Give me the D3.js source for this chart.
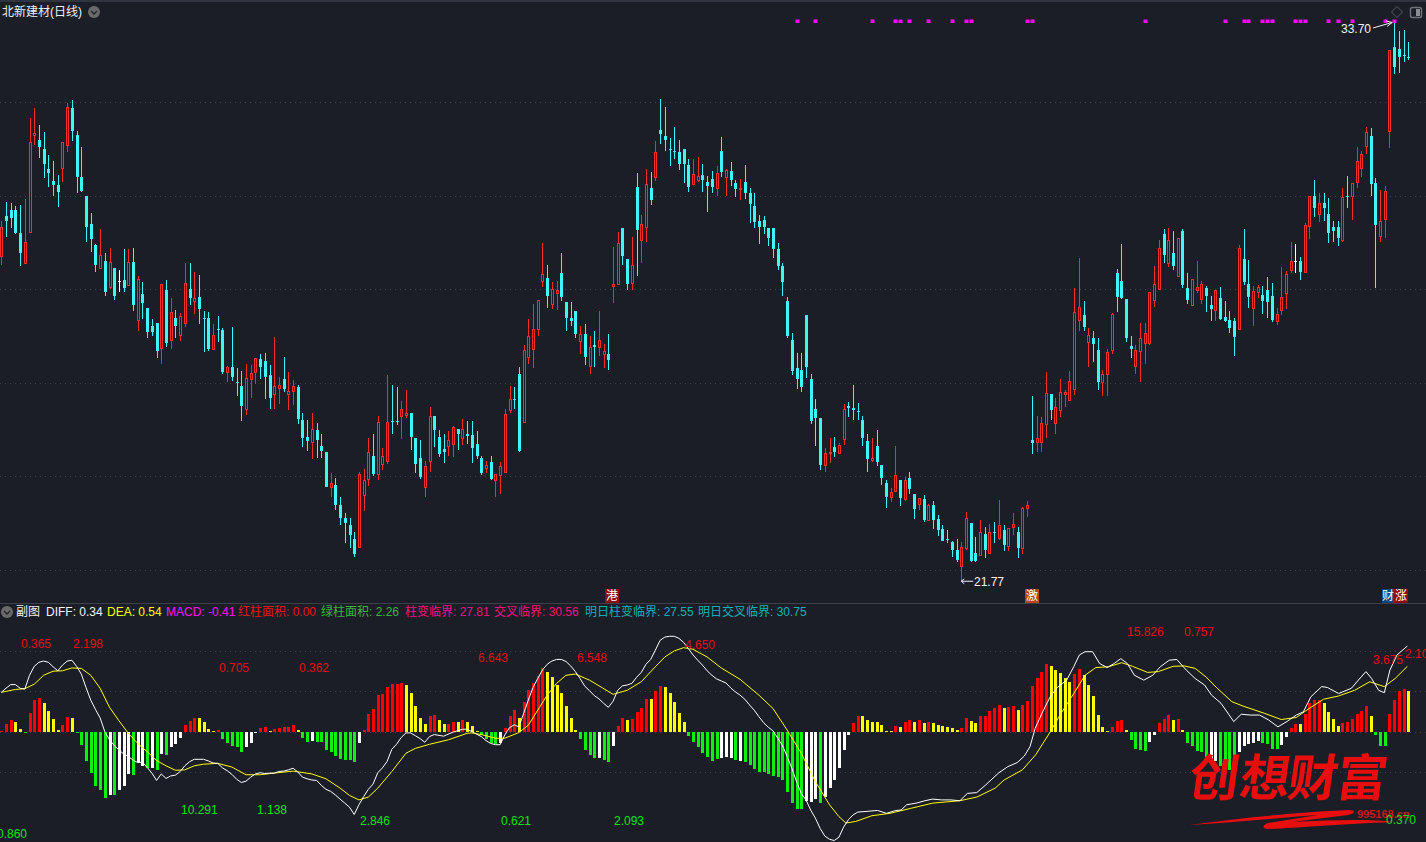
<!DOCTYPE html>
<html><head><meta charset="utf-8">
<script src="https://d3js.org/d3.v7.min.js"></script>
<style>html,body{margin:0;padding:0;background:#1b1e27;overflow:hidden}svg{display:block}text{font-family:"Liberation Sans","Noto Sans CJK SC",sans-serif}</style>
</head><body><svg id="c" width="1426" height="842"></svg>
<script>
const candleKinds=("RCCCCRRRCC"+"CCCRRCCCCC"+"CRCRCWCRCR"+"CCCCRCRCRR"+"CRCCCRCCRC"+"CCRRRCCCRR"+"CRRCCCRCCC"+"RCCCCCRRRC"+"RRRCCRRCCC"+"RRCCCRRCRC"+"CCCRCRRRRC"+"CRRRRRCRRC"+"CCCRCRCRRC"+"RRCCRCRRCR"+"CCCCCCCRRC"+"CCRCRCCRCC"+"CCCCCCCCCC"+"CCCCCRRCRR"+"CCCCCRCCCR"+"RCRCCRCRCC"+"CCCCRRCCRC"+"RCRCRRCRRC"+"RRRCRRRRRR"+"CRCCRRRCCC"+"CRRRRRRCRC"+"RCCRRRCCRC"+"CCCRCCRRCC"+"CRRRRWCRRC"+"RCCCCRCRRR"+"RCCRRRCCCC").split("");
const highs=[29.46,29.87,29.85,29.78,29.80,29.92,31.66,31.87,31.51,31.36,
30.87,30.74,30.44,31.14,31.98,32.04,31.38,31.04,29.99,29.63,
28.97,29.29,28.77,28.88,28.45,28.41,28.86,28.86,28.88,28.28,
28.15,27.60,27.36,27.28,28.11,28.20,27.81,27.55,27.49,28.56,
28.56,28.37,28.30,27.53,27.51,27.26,27.43,27.17,26.36,27.19,
26.32,26.25,26.40,26.38,26.52,26.61,26.64,26.38,26.98,26.12,
26.55,26.23,26.06,25.95,25.35,25.20,25.35,25.14,24.91,24.52,
24.07,23.97,23.56,23.22,23.11,22.81,24.09,24.16,24.82,24.91,
25.29,24.61,26.17,25.95,25.91,25.61,25.85,25.35,24.82,24.78,
24.33,25.48,25.29,24.99,24.91,24.97,25.08,25.01,25.23,25.18,
25.18,24.97,24.44,24.33,24.44,24.03,24.31,25.44,25.93,25.91,
26.34,26.81,27.36,27.68,27.77,28.99,28.52,28.15,28.17,28.77,
27.73,27.73,27.53,27.21,27.26,27.00,27.11,27.53,26.83,27.04,
28.90,29.22,29.31,28.65,29.12,30.48,29.59,30.57,30.50,31.17,
32.06,31.89,31.23,31.47,31.19,31.00,30.78,30.78,30.83,30.68,
30.42,30.53,30.63,31.25,30.57,30.72,30.33,30.35,30.65,30.16,
30.06,29.59,29.56,29.31,29.31,28.99,28.56,27.83,27.06,26.64,
26.64,27.45,26.19,25.65,25.25,24.61,24.82,24.84,24.71,25.55,
25.59,25.95,25.57,25.29,24.91,24.82,24.99,24.24,23.92,23.75,
24.65,23.92,23.99,24.09,23.62,23.54,23.60,23.41,23.47,23.17,
22.96,22.85,22.62,22.66,22.60,23.24,23.00,22.70,23.07,22.92,
22.98,23.02,23.50,22.96,22.90,23.22,22.92,23.35,23.47,25.72,
25.29,25.27,26.23,25.76,25.67,26.08,25.85,26.25,28.03,28.67,
27.75,27.17,27.11,26.96,26.27,26.72,27.49,28.43,28.97,27.79,
27.00,26.81,27.28,27.28,27.94,28.50,29.05,29.29,29.31,29.24,
29.09,29.29,28.35,28.20,28.60,28.17,28.07,27.86,27.98,28.05,
27.75,27.53,27.38,28.94,29.29,28.62,28.07,28.09,28.07,28.26,
28.13,27.60,28.47,28.39,29.01,28.97,28.69,29.41,29.99,30.33,
30.06,30.06,29.95,29.46,29.46,30.16,30.42,30.27,31.04,30.95,
31.47,31.44,30.38,30.12,30.21,33.09,33.70,33.52,33.54,33.28];
const bodyTops=[29.32,29.56,29.69,29.69,29.20,29.00,31.14,31.33,31.19,31.00,
30.57,30.31,30.23,31.14,31.89,31.87,31.30,30.40,29.99,29.39,
28.94,28.71,28.60,28.58,28.45,28.17,28.20,28.58,28.58,28.21,
27.90,27.60,27.21,27.28,28.09,27.98,27.51,27.38,27.41,28.13,
28.00,27.81,27.83,27.38,27.38,27.02,27.14,27.13,26.32,26.34,
26.01,25.93,26.10,26.19,26.52,26.51,26.47,26.17,25.93,25.95,
26.08,25.82,25.93,25.91,25.20,24.84,25.01,24.99,24.65,24.52,
23.84,23.82,23.39,23.11,22.96,22.66,24.05,23.92,24.52,24.44,
25.16,24.42,25.16,25.18,25.18,25.42,25.35,25.35,24.82,24.39,
24.22,25.29,25.29,24.84,24.58,24.76,25.05,25.01,25.01,24.91,
24.88,24.69,24.39,24.24,24.31,24.03,24.22,25.33,25.65,25.65,
26.19,26.70,27.00,27.13,27.75,28.32,28.24,28.00,27.98,28.35,
27.73,27.38,27.53,27.04,27.04,26.76,26.81,26.91,26.66,26.61,
28.11,28.97,29.31,28.65,28.50,30.18,29.39,30.23,30.16,30.93,
31.40,31.27,30.99,30.95,30.93,31.00,30.65,30.46,30.40,30.44,
30.29,30.35,30.48,30.95,30.53,30.53,30.27,30.16,30.29,30.06,
29.78,29.46,29.48,29.31,29.31,28.86,28.50,27.75,26.91,26.32,
26.27,27.45,26.08,25.44,25.25,24.50,24.52,24.63,24.67,25.42,
25.50,25.46,25.40,25.20,24.76,24.39,24.65,24.24,23.86,23.65,
24.01,23.92,23.92,23.97,23.62,23.52,23.52,23.37,23.39,23.09,
22.88,22.66,22.60,22.43,22.49,23.09,23.00,22.36,22.81,22.77,
22.81,22.81,22.96,22.85,22.88,22.98,22.81,23.32,23.37,24.78,
24.82,25.12,25.78,25.76,25.48,25.80,25.80,26.02,27.51,27.60,
27.45,27.02,26.96,26.70,26.17,26.64,27.45,28.35,28.17,27.79,
26.79,26.68,26.94,27.06,27.94,28.09,28.88,29.18,29.05,28.77,
29.09,29.24,28.03,28.20,28.03,28.09,28.03,27.66,27.98,27.81,
27.41,27.34,27.32,28.88,28.65,28.11,27.96,28.03,27.88,27.98,
27.85,27.45,27.83,28.32,28.60,28.60,28.60,29.37,29.99,29.99,
29.84,29.84,29.61,29.33,29.33,29.95,29.99,30.25,30.72,30.87,
31.34,31.27,30.27,29.44,30.08,33.09,33.18,33.13,33.00,32.96];
const bodyBots=[28.69,29.46,29.52,29.20,28.78,28.55,29.22,31.28,31.04,30.68,
30.48,30.23,30.08,30.58,31.06,31.38,30.40,30.10,29.33,29.07,
28.52,28.45,27.94,28.03,27.85,28.17,28.03,28.07,27.66,27.34,
27.70,27.09,27.09,26.68,26.74,26.85,26.91,27.21,27.02,27.26,
27.81,27.73,27.58,27.38,26.72,26.72,27.14,26.23,26.21,26.13,
26.01,25.50,25.44,26.08,26.23,26.34,26.13,25.67,25.74,25.87,
25.87,25.76,25.82,25.23,24.82,24.76,24.73,24.78,24.54,23.77,
23.77,23.39,23.11,23.00,22.75,22.34,22.49,23.60,23.94,24.05,
24.03,24.26,24.31,25.18,25.18,25.27,25.31,24.84,24.26,23.99,
23.77,24.31,25.00,24.48,24.52,24.63,24.69,24.91,24.82,24.86,
24.61,24.44,24.07,24.16,23.94,23.92,24.01,24.09,25.40,25.65,
24.54,25.16,26.55,26.72,27.13,28.17,27.85,27.68,27.90,27.83,
27.38,27.32,27.04,26.89,26.55,26.34,26.76,26.76,26.60,26.49,
28.05,28.11,28.71,28.11,28.13,29.27,29.05,29.31,29.91,30.38,
31.32,31.19,30.99,30.95,30.68,30.68,30.18,30.23,30.33,30.33,
30.20,30.18,30.16,30.50,30.38,30.33,30.14,30.12,30.06,29.82,
29.44,29.33,29.33,29.09,28.86,28.50,28.15,27.00,26.25,26.08,
25.91,26.34,25.18,25.25,24.24,24.24,24.52,24.52,24.50,24.78,
25.46,25.42,25.40,24.82,24.37,24.35,24.31,23.97,23.56,23.54,
23.67,23.54,23.51,23.73,23.30,23.39,23.07,23.05,23.07,22.85,
22.62,22.66,22.43,22.21,22.08,22.45,22.19,22.19,22.32,22.43,
22.36,22.81,22.68,22.53,22.51,22.90,22.47,22.45,23.32,24.71,
24.73,24.73,25.10,25.42,25.14,25.40,25.74,25.63,25.85,27.34,
27.19,26.87,26.83,26.02,26.00,26.17,26.68,27.83,27.81,26.96,
26.72,26.34,26.66,26.83,26.83,27.75,28.00,28.73,28.54,28.50,
28.28,28.09,27.77,27.66,27.98,27.79,27.85,27.58,27.55,27.36,
27.32,27.17,26.98,27.13,28.15,27.83,27.58,27.94,27.75,27.73,
27.34,27.32,27.55,27.90,28.41,28.60,28.37,28.35,29.35,29.73,
29.59,29.73,29.20,29.24,29.10,29.05,29.99,29.99,30.27,30.57,
31.04,30.25,29.37,29.12,29.48,31.38,32.75,32.96,33.00,32.96];
const lows=[28.52,29.12,29.31,29.18,28.50,28.55,29.22,31.09,30.80,30.38,
30.19,30.00,29.76,30.28,30.93,31.17,30.06,30.08,29.01,28.79,
28.37,28.45,27.85,28.00,27.77,27.94,27.94,28.07,27.53,27.11,
27.36,26.96,27.00,26.53,26.40,26.76,26.72,26.96,26.89,27.19,
27.66,27.47,27.26,26.66,26.68,26.72,26.87,26.19,26.02,26.04,
25.72,25.18,25.31,25.67,25.97,26.08,25.65,25.44,25.44,25.55,
25.80,25.42,25.53,25.12,24.63,24.54,24.37,24.39,24.39,23.77,
23.56,23.28,22.96,22.58,22.47,22.28,22.49,23.26,23.79,24.01,
23.92,24.14,24.26,24.91,25.10,24.80,25.25,24.56,24.07,23.94,
23.56,24.09,24.63,24.42,24.29,24.44,24.41,24.56,24.67,24.69,
24.29,24.37,24.03,24.07,23.92,23.56,23.62,24.09,25.35,25.44,
24.52,25.16,26.40,26.32,27.00,28.05,27.60,27.58,27.56,27.75,
27.11,27.21,26.96,26.61,26.38,26.19,26.34,26.57,26.32,26.27,
27.71,28.09,28.52,27.98,27.98,28.28,28.56,29.01,29.80,30.31,
31.10,30.95,30.63,30.78,30.55,30.27,30.08,30.23,30.29,30.08,
29.65,30.06,29.99,30.40,29.99,30.21,29.97,29.91,29.93,29.41,
29.31,28.97,29.18,28.93,28.67,28.41,27.85,26.96,26.17,25.87,
25.80,26.10,25.12,24.65,24.14,24.10,24.29,24.41,24.50,24.67,
25.27,25.20,25.20,24.65,24.10,24.31,24.22,23.82,23.32,23.45,
23.67,23.37,23.47,23.62,23.09,23.28,23.02,23.05,22.87,22.73,
22.62,22.58,22.28,22.17,21.77,22.43,22.17,22.17,22.32,22.26,
22.34,22.57,22.64,22.40,22.40,22.75,22.26,22.34,23.13,24.48,
24.52,24.52,24.82,25.20,24.91,25.27,25.48,25.63,25.74,27.11,
27.11,26.34,26.45,25.85,25.72,25.72,26.62,27.51,27.79,26.87,
26.53,26.19,26.02,26.40,26.81,27.62,28.00,28.56,28.47,28.41,
28.28,28.02,27.68,27.66,27.92,27.68,27.51,27.32,27.32,27.34,
27.30,27.06,26.57,27.13,28.09,27.60,27.21,27.81,27.47,27.38,
27.30,27.23,27.45,27.58,28.35,28.34,28.20,28.35,29.07,29.54,
29.44,29.46,28.99,29.01,28.92,29.01,29.73,29.48,30.16,30.40,
30.89,29.99,28.03,29.01,29.10,31.02,32.60,32.62,32.85,32.90];
const signalBars=[169,173,185,190,191,193,197,202,205,206,218,219,243,260,264,265,268,269,270,275,276,277,282,284,287,294,296];
const macdValues=[.02,.19,.29,.24,.07,-.03,.46,.78,.83,.70,
.51,.32,.05,.16,.36,.34,-.01,-.33,-.72,-1.02,
-1.34,-1.43,-1.63,-1.56,-1.56,-1.44,-1.34,-1.03,-1.07,-.75,
-.84,-.89,-.89,-.94,-.55,-.58,-.38,-.30,-.16,.16,
.26,.34,.34,.23,.07,.02,.04,-.18,-.29,-.34,
-.38,-.50,-.38,-.27,-.03,.08,.11,.02,.07,.10,
.11,.12,.16,.04,-.16,-.25,-.23,-.25,-.25,-.45,
-.51,-.61,-.68,-.70,-.70,-.75,-.28,.05,.43,.56,
.90,.93,1.09,1.17,1.17,1.20,1.15,.95,.63,.34,
.19,.39,.40,.29,.19,.19,.25,.25,.29,.23,
.13,.02,-.08,-.18,-.29,-.30,-.27,.08,.39,.54,
.34,.73,1.02,1.19,1.37,1.57,1.47,1.34,1.15,.95,
.63,.34,.04,-.18,-.45,-.57,-.64,-.65,-.70,-.75,
-.35,.14,.34,.29,.31,.48,.58,.80,.80,1.00,
1.12,1.10,.95,.73,.46,.24,-.10,-.25,-.38,-.52,
-.62,-.72,-.67,-.66,-.62,-.66,-.70,-.72,-.75,-.82,
-.92,-1.00,-1.00,-1.03,-1.08,-1.12,-1.20,-1.48,-1.75,-1.90,
-1.90,-1.70,-1.73,-1.66,-1.75,-1.61,-1.39,-1.19,-.89,-.45,
-.08,.21,.39,.39,.29,.24,.24,.16,.02,.02,
.14,.11,.24,.29,.24,.29,.21,.24,.21,.16,
.14,.11,.08,.04,.09,.34,.26,.21,.39,.39,
.51,.58,.66,.58,.61,.63,.53,.66,.75,1.12,
1.32,1.46,1.66,1.61,1.52,1.45,1.32,1.22,1.43,1.54,
1.39,1.15,.88,.41,.11,.02,.11,.26,.29,.04,
-.20,-.43,-.45,-.48,-.25,-.08,.21,.32,.41,.29,
.31,.04,-.28,-.35,-.47,-.51,-.62,-.73,-.73,-.85,
-.91,-.94,-.94,-.50,-.35,-.30,-.28,-.23,-.28,-.31,
-.43,-.43,-.33,-.13,.09,.19,.19,.43,.70,.78,
.78,.70,.48,.31,.14,.21,.24,.31,.43,.51,
.63,.39,-.08,-.35,-.35,.43,.78,1.00,1.05,1.00];
const macdKinds=("RRRYYGRRRY"+"YYYRRYGGGG"+"GGGWGWWWGW"+"WGWGWGWWWR"+"RRYYYYRGGG"+"GGWWWRRYRR"+"RRRYGGWGGG"+"GGGGGGWRRR"+"RRRRRRYYYY"+"YRRYYRRYRY"+"YYGGGGWRRR"+"YRRRRRYYYY"+"YYYGGGGWGG"+"WRRYRRRRYR"+"RYYYYYGGGG"+"GGGWWWGWGG"+"GGGGGGGGGG"+"GWWWGWWWWW"+"WRRYYYYYYY"+"RYRRYRYRYY"+"YYYYRRYYRR"+"RRRYRRYRRR"+"RRRYYYYYRR"+"YYYYYYRRRY"+"GGGGWWRRRY"+"RYGGGGGWWG"+"GGGWWWWWGG"+"GGWWRRYRRR"+"RYYYYRRRRR"+"RYGGGRRRRY").split("");
const diffBars=[0,1,2,3,4,5,6,7,8,9,10,11,12,13,14,15,16,17,18,19,20,21,22,23,24,25,26,27,28,29,30,31,32,33,34,35,36,37,38,39,40,41,42,43,44,45,46,47,48,49,50,51,52,53,54,55,56,57,58,59,60,61,62,63,64,65,66,67,68,69,70,71,72,73,74,75,76,77,78,79,80,81,82,83,84,85,86,87,88,89,90,91,92,94,96,98,99,100,101,102,103,104,105,106,107,108,109,110,111,112,113,114,115,116,117,118,119,120,121,122,123,124,125,126,127,128,129,130,131,132,133,134,135,136,137,138,139,140,141,142,143,144,145,146,147,148,149,150,151,152,153,154,155,156,157,158,159,160,161,162,163,164,165,166,167,168,169,170,171,172,173,174,175,176,177,178,179,180,181,182,184.2,186.2,188.1,190.1,191.2,192.4,194.4,196.3,197.9,199.8,201.8,203.7,205.3,207.3,209.2,212,213.9,215.9,217.4,218.6,219.7,221.3,222.9,224.4,226.4,227.9,229.1,230.3,231.9,233.4,235,236.5,237.9,239.3,240.8,242.8,244.7,246.3,248.2,249.8,251.8,253.7,255.7,257.2,259.2,261.9,263.5,265.4,267.4,269.3,271.3,273.2,275.2,276.7,278.3,280.6,281.8,284.2,286.9,288.4,290,291.2,292.7,293.9,295.1,296.6,298.8];
const diffValues=[.97,1.07,1.16,1.16,1.07,1.05,1.39,1.61,1.71,1.74,1.71,1.60,1.50,1.64,1.74,1.76,1.61,1.42,1.09,.78,.55,.34,0,-.20,-.34,-.45,-.55,-.61,-.70,-.76,-.75,-.88,-1.02,-1.20,-1.04,-1.15,-1.09,-1.07,-.98,-.84,-.74,-.68,-.68,-.68,-.72,-.77,-.78,-.89,-.96,-1.05,-1.17,-1.25,-1.22,-1.12,-1.04,-1.01,-1.03,-1.02,-1.02,-.98,-.97,-.94,-.90,-.99,-1.12,-1.16,-1.19,-1.20,-1.32,-1.42,-1.47,-1.56,-1.66,-1.76,-1.86,-2.04,-1.80,-1.60,-1.42,-1.29,-1.01,-.89,-.73,-.43,-.31,-.14,-.03,-.03,-.10,-.17,-.26,-.12,-.07,-.11,-.01,.06,.06,0,-.06,-.12,-.22,-.29,-.32,-.32,-.08,.10,.17,.12,.45,.78,1.09,1.31,1.52,1.66,1.74,1.78,1.78,1.73,1.62,1.48,1.31,1.12,1.01,.89,.81,.70,.60,.75,1.02,1.13,1.15,1.19,1.34,1.46,1.66,1.78,2.01,2.25,2.33,2.35,2.35,2.30,2.20,2.05,1.89,1.76,1.64,1.50,1.39,1.30,1.25,1.20,1.08,.98,.90,.80,.66,.53,.37,.22,.11,.02,-.16,-.34,-.61,-.90,-1.23,-1.52,-1.68,-1.93,-2.13,-2.38,-2.57,-2.65,-2.68,-2.60,-2.35,-2.17,-2.05,-1.98,-1.96,-1.94,-2.01,-1.94,-1.93,-1.80,-1.76,-1.70,-1.66,-1.68,-1.68,-1.70,-1.52,-1.50,-1.31,-1.01,-.86,-.76,-.60,-.37,.08,.49,.86,1.09,1.27,1.60,1.89,1.97,1.97,1.68,1.58,1.68,1.80,1.68,1.39,1.27,1.39,1.60,1.76,1.78,1.52,1.31,1.15,.90,.70,.25,.43,.41,.41,.29,.12,.25,.41,.49,.86,1.11,1.09,.94,1.07,1.27,1.48,1.31,1.02,.96,1.52,1.89,2.11];
const deaBars=[0,3,5,7,9,11,13,15,17,19,21,23,25,27,29,31,33,35,37,39,41,43,46,49,52,55,58,62,66,69,72,74,76,78,80,83,86,88,91,95,99,100,102,105,107,110,112,114,116,118,120,122,125,127.6,130,133,136,139,141,143,145,147,150,153,157,161,164,167,170,173,176,178,179.5,181.6,185,188.9,193.2,197.9,203.7,207.3,211.2,213.1,217,219.8,222.5,225.2,227.9,230.3,232.6,235.3,238.1,240.4,243.6,245.9,249,251.4,253.7,256,258.4,261.5,263.9,268.5,272,275.2,277.9,281,284.2,287.6,290.8,293.9,296.2,298.8];
const deaValues=[.97,1.04,1.06,1.17,1.39,1.49,1.50,1.57,1.56,1.39,1.07,.60,.27,-.04,-.29,-.49,-.71,-.84,-.95,-.94,-.84,-.80,-.78,-.87,-1.06,-1.06,-1.02,-.97,-1.04,-1.16,-1.39,-1.57,-1.68,-1.61,-1.39,-.98,-.53,-.41,-.31,-.20,-.04,-.03,-.07,-.16,-.16,-.02,.16,.53,.90,1.19,1.39,1.42,1.27,1.09,.92,1.02,1.23,1.60,1.84,1.99,2.07,2.03,1.84,1.57,1.29,.90,.57,.04,-.53,-1.23,-1.80,-2.09,-2.25,-2.21,-2.07,-2.01,-1.89,-1.76,-1.70,-1.61,-1.39,-1.19,-.94,-.57,-.08,.45,.94,1.39,1.58,1.60,1.70,1.61,1.46,1.48,1.61,1.62,1.56,1.35,1.07,.74,.63,.45,.30,.35,.57,.80,.88,1.02,1.23,1.11,1.31,1.61];
const legendTexts=[["DIFF: 0.34","#f4f4f4",46],["DEA: 0.54","#ffff00",107],["MACD: -0.41","#ff10ff",166],["红柱面积: 0.00","#e01818",238],["绿柱面积: 2.26","#3bb53b",321],["柱变临界: 27.81","#f0107c",405],["交叉临界: 30.56","#f0107c",494],["明日柱变临界: 27.55","#10b0b8",585],["明日交叉临界: 30.75","#10b0b8",698]];
const redAreaLabels=[["0.365",21,644],["2.198",73,644],["0.705",219,668],["0.362",299,668],["6.643",478,658],["6.548",577,658],["4.650",685,645],["15.826",1127,632],["0.757",1184,632],["3.675",1373,660],["2.10",1405,654]];
const greenAreaLabels=[["0.860",-3,834],["10.291",181,810],["1.138",257,810],["2.846",360,821],["0.621",501,821],["2.093",614,821],["0.370",1386,820]];
const priceGrid=[22,24,26,28,30,32];
const macdGrid=[-1,0,1,2];
const eventTags=[["港",605,14,"#8b0c0c"],["激",1025,14,"#b04a12"],["财",1382,12,"#14457a"],["涨",1394,14,"#8b0c0c"]];

const svg=d3.select("#c");
const W=1426;
svg.append("rect").attr("width",W).attr("height",842).attr("fill","#1b1e27");
svg.append("rect").attr("width",W).attr("height",2).attr("fill","#30343e");
svg.append("rect").attr("y",603).attr("width",W).attr("height",1).attr("fill","#3c404a");

const x=d3.scaleLinear().domain([0,299]).range([1.3,1408.3]);
const yP=d3.scaleLinear().domain([22,32]).range([570,102]);
const yM=d3.scaleLinear().domain([-1,2]).range([772.3,650.5]);
const px=i=>Math.round(x(i));

const grid=svg.append("g").attr("stroke","#3f434d").attr("stroke-dasharray","1,4");
grid.selectAll("line.p").data(priceGrid).join("line").attr("class","p").attr("x1",0).attr("x2",W).attr("y1",d=>Math.round(yP(d))+.5).attr("y2",d=>Math.round(yP(d))+.5);
grid.selectAll("line.m").data(macdGrid).join("line").attr("class","m").attr("x1",0).attr("x2",W).attr("y1",d=>Math.round(yM(d))+.5).attr("y2",d=>Math.round(yM(d))+.5);

const kc={R:"#ff2b2b",C:"#3ff7f7",W:"#ffffff"};
const idx=d3.range(300);
const ck=svg.append("g").attr("shape-rendering","crispEdges");
ck.selectAll("line").data(idx).join("line").attr("x1",i=>px(i)+.5).attr("x2",i=>px(i)+.5)
  .attr("y1",i=>yP(highs[i])).attr("y2",i=>yP(lows[i])).attr("stroke",i=>kc[candleKinds[i]]).attr("stroke-width",1);
ck.selectAll("rect").data(idx).join("rect")
  .attr("x",i=>candleKinds[i]==="R"?px(i)-.5:px(i)-1)
  .attr("y",i=>yP(bodyTops[i]))
  .attr("width",i=>candleKinds[i]==="R"?2:3)
  .attr("height",i=>Math.max(1,yP(bodyBots[i])-yP(bodyTops[i])))
  .attr("fill",i=>candleKinds[i]==="R"?"#1b1e27":kc[candleKinds[i]])
  .attr("stroke",i=>candleKinds[i]==="R"?kc.R:"none");

svg.append("g").selectAll("rect").data(signalBars).join("rect").attr("x",i=>px(i)-1.5).attr("y",19.5).attr("width",4).attr("height",3.5).attr("fill","#ff00ff");

const mc={R:"#ff0000",Y:"#ffff00",G:"#0ef00e",W:"#ffffff"};
svg.append("g").attr("shape-rendering","crispEdges").selectAll("rect").data(idx).join("rect")
  .attr("x",i=>px(i)-1).attr("width",3)
  .attr("y",i=>Math.min(yM(0),yM(macdValues[i])))
  .attr("height",i=>Math.max(1,Math.abs(yM(macdValues[i])-yM(0))))
  .attr("fill",i=>mc[macdKinds[i]]);

const ln=(xs,vs,col)=>svg.append("path").attr("fill","none").attr("stroke",col).attr("stroke-width",1)
  .attr("d",d3.line().x((d,i)=>x(xs[i])).y(d=>yM(d))(vs));
ln(deaBars,deaValues,"#ffff00");
ln(diffBars,diffValues,"#ffffff");

const mark=svg.append("g").attr("fill","#e80e0e");
[["创",1187],["想",1238],["财",1286],["富",1335]].forEach(d=>{
 mark.append("text").attr("transform",`translate(${d[1]},796) skewX(-8)`).attr("font-size",50).attr("font-weight",700).attr("style",'font-family:"Noto Sans CJK SC"').text(d[0]);});
mark.append("path").attr("d","M1189,825 C1240,818 1300,812 1348,810 C1356,810 1356,813 1348,815 L1292,822 C1330,820 1370,819 1394,822 C1340,824 1295,828 1268,829 C1262,829 1262,825 1268,823 L1318,815 C1275,818 1230,823 1189,825Z");
svg.append("text").attr("x",1357).attr("y",814).attr("fill","#c81818").attr("font-size",11).attr("font-weight",700).attr("dominant-baseline","central").text("995168.cn");

const tx=(s,xx,yy,col,size,anchor)=>svg.append("text").attr("x",xx).attr("y",yy).attr("fill",col).attr("font-size",size||12).attr("text-anchor",anchor||"start").attr("dominant-baseline","central").text(s);

tx("北新建材(日线)",2,12,"#f0f0f0",12);
const icon=(cx,cy)=>{svg.append("circle").attr("cx",cx).attr("cy",cy).attr("r",6).attr("fill","#6a6a6a");
 svg.append("path").attr("d",`M${cx-3},${cy-1}L${cx},${cy+2}L${cx+3},${cy-1}`).attr("fill","none").attr("stroke","#22242a").attr("stroke-width",1.4);};
icon(94,12);icon(7,612);
tx("副图",16,612,"#f0f0f0",12);
legendTexts.forEach(d=>tx(d[0],d[2],612,d[1],12));
redAreaLabels.forEach(d=>tx(d[0],d[1],d[2],"#e01010",12));
greenAreaLabels.forEach(d=>tx(d[0],d[1],d[2],"#10e010",12));

svg.append("path").attr("d","M1397,6.5L1402.5,12L1397,17.5L1391.5,12Z").attr("fill","none").attr("stroke","#5a5d64");
svg.append("rect").attr("x",1410.5).attr("y",7.5).attr("width",11).attr("height",10).attr("rx",2).attr("fill","none").attr("stroke","#70737a").attr("stroke-width",1.5);
svg.append("rect").attr("x",1416).attr("y",9).attr("width",4).attr("height",7).attr("fill","#8a8d92");

tx("33.70",1341,29,"#f4f4f4",12);
const ax=x(296)-2, ay=yP(33.70);
svg.append("path").attr("d",`M1373,28L${ax},${ay}M${ax-6},${ay-1.5}L${ax},${ay}L${ax-5},${ay+4}`).attr("fill","none").attr("stroke","#f4f4f4");
const bx=x(204),by=yP(21.77)+.5;
svg.append("path").attr("d",`M${bx},${by}H${bx+12}M${bx+3},${by-2.5}L${bx},${by}L${bx+3},${by+2.5}`).attr("fill","none").attr("stroke","#f4f4f4");
tx("21.77",974,582,"#f4f4f4",12);

eventTags.forEach(d=>{svg.append("rect").attr("x",d[1]).attr("y",589).attr("width",d[2]).attr("height",14).attr("fill",d[3]);
 tx(d[0],d[1]+d[2]/2,596,"#ffffff",12,"middle");});
</script></body></html>
